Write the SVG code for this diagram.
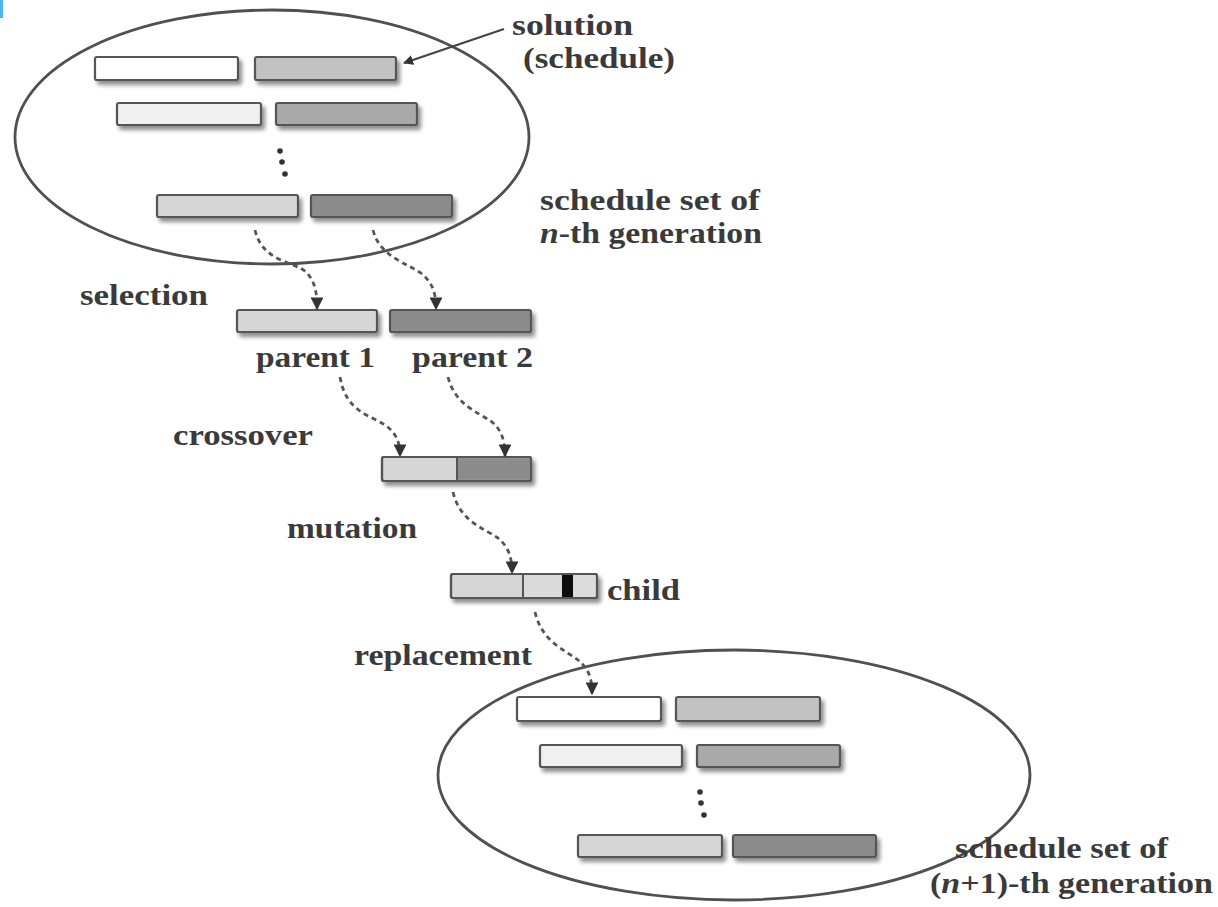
<svg xmlns="http://www.w3.org/2000/svg" width="1218" height="907" viewBox="0 0 1218 907">
<defs>
<style>
.bar{stroke:#555;stroke-width:2.2}
.ell{fill:none;stroke:#505050;stroke-width:2.8}
.lbl{font-family:"Liberation Serif","Times New Roman",serif;font-size:30px;font-weight:bold;fill:#3a3a3a}
.conn{fill:none;stroke:#555;stroke-width:2.8;stroke-dasharray:5 4}
.dot{fill:#333}
.w{fill:#ffffff}.l1{fill:#f0f0f0}.l2{fill:#d6d6d6}.g1{fill:#c2c2c2}.g2{fill:#a9a9a9}.g3{fill:#8c8c8c}
</style>
<filter id="sh" x="-10%" y="-40%" width="125%" height="200%">
<feGaussianBlur in="SourceAlpha" stdDeviation="2"/>
<feOffset dx="3" dy="4" result="b"/>
<feComponentTransfer><feFuncA type="linear" slope="0.45"/></feComponentTransfer>
<feMerge><feMergeNode/><feMergeNode in="SourceGraphic"/></feMerge>
</filter>
<marker id="ah" viewBox="0 0 10 10" refX="9" refY="5" markerWidth="4.6" markerHeight="4.6" orient="auto">
<path d="M0,0 L10,5 L0,10 z" fill="#333"/>
</marker>
</defs>
<rect x="0" y="0" width="3" height="18" fill="#4db6f0"/>

<g id="population-n">
<ellipse class="ell" cx="272" cy="137" rx="257" ry="127"/>
<g filter="url(#sh)">
<rect class="bar w" x="95" y="57" width="143" height="23" rx="2"/>
<rect class="bar g1" x="255" y="57" width="141" height="23" rx="2"/>
<rect class="bar l1" x="117" y="103" width="144" height="22" rx="2"/>
<rect class="bar g2" x="276" y="103" width="141" height="22" rx="2"/>
<rect class="bar l2" x="157" y="195" width="141" height="22" rx="2"/>
<rect class="bar g3" x="311" y="195" width="141" height="22" rx="2"/>
</g>
<circle class="dot" cx="280" cy="151" r="2.8"/>
<circle class="dot" cx="282" cy="162" r="2.8"/>
<circle class="dot" cx="285" cy="174" r="2.8"/>
</g>

<g id="label-solution">
<text class="lbl" x="512" y="35" textLength="121" lengthAdjust="spacingAndGlyphs">solution</text>
<text class="lbl" x="523" y="68" textLength="152" lengthAdjust="spacingAndGlyphs">(schedule)</text>
</g>
<g id="label-gen-n">
<text class="lbl" x="540" y="210" textLength="220" lengthAdjust="spacingAndGlyphs">schedule set of</text>
<text class="lbl" x="540" y="243" textLength="222" lengthAdjust="spacingAndGlyphs"><tspan font-style="italic">n</tspan>-th generation</text>
</g>

<g id="label-selection"><text class="lbl" x="80" y="305" textLength="128" lengthAdjust="spacingAndGlyphs">selection</text></g>

<g id="parent1">
<rect class="bar l2" x="237" y="310" width="140" height="22" rx="2" filter="url(#sh)"/>
<text class="lbl" x="256" y="367" textLength="119" lengthAdjust="spacingAndGlyphs">parent 1</text>
</g>
<g id="parent2">
<rect class="bar g3" x="390" y="310" width="141" height="22" rx="2" filter="url(#sh)"/>
<text class="lbl" x="412" y="367" textLength="121" lengthAdjust="spacingAndGlyphs">parent 2</text>
</g>

<g id="label-crossover"><text class="lbl" x="173" y="445" textLength="140" lengthAdjust="spacingAndGlyphs">crossover</text></g>
<g id="crossover-result">
<g filter="url(#sh)">
<rect class="bar l2" x="382" y="457" width="149" height="24" rx="2"/>
<rect x="457" y="458.1" width="72.9" height="21.8" class="g3"/>
<line x1="457" y1="457" x2="457" y2="481" stroke="#555" stroke-width="2"/>
<rect x="382" y="457" width="149" height="24" rx="2" fill="none" stroke="#555" stroke-width="2.2"/>
</g>
</g>

<g id="label-mutation"><text class="lbl" x="287" y="538" textLength="130" lengthAdjust="spacingAndGlyphs">mutation</text></g>
<g id="child">
<g filter="url(#sh)">
<rect class="bar l2" x="451" y="574" width="146" height="24" rx="2"/>
<rect x="524" y="575" width="38" height="22" fill="#dadada"/>
<rect x="562" y="575" width="11" height="22" fill="#111"/>
<rect x="573" y="575" width="23" height="22" fill="#dcdcdc"/>
<line x1="523" y1="574" x2="523" y2="598" stroke="#555" stroke-width="2"/>
<rect x="451" y="574" width="146" height="24" rx="2" fill="none" stroke="#555" stroke-width="2.2"/>
</g>
<text class="lbl" x="607" y="600" textLength="73" lengthAdjust="spacingAndGlyphs">child</text>
</g>

<g id="label-replacement"><text class="lbl" x="354" y="665" textLength="178" lengthAdjust="spacingAndGlyphs">replacement</text></g>

<g id="population-n1">
<ellipse class="ell" cx="734" cy="775" rx="296" ry="125"/>
<g filter="url(#sh)">
<rect class="bar w" x="517" y="697" width="144" height="24" rx="2"/>
<rect class="bar g1" x="676" y="697" width="144" height="24" rx="2"/>
<rect class="bar l1" x="540" y="745" width="142" height="22" rx="2"/>
<rect class="bar g2" x="697" y="745" width="143" height="22" rx="2"/>
<rect class="bar l2" x="578" y="835" width="144" height="22" rx="2"/>
<rect class="bar g3" x="733" y="835" width="143" height="22" rx="2"/>
</g>
<circle class="dot" cx="700" cy="792" r="2.8"/>
<circle class="dot" cx="701" cy="803" r="2.8"/>
<circle class="dot" cx="704" cy="815" r="2.8"/>
</g>
<g id="label-gen-n1">
<text class="lbl" x="955" y="858" textLength="213" lengthAdjust="spacingAndGlyphs">schedule set of</text>
<text class="lbl" x="930" y="893" textLength="283" lengthAdjust="spacingAndGlyphs">(<tspan font-style="italic">n</tspan>+1)-th generation</text>
</g>

<g id="connectors">
<path d="M504,29 L404,63" fill="none" stroke="#444" stroke-width="2.2" marker-end="url(#ah)"/>
<path class="conn" d="M255,230 C262,262 296,262 306,272 C316,282 317,295 317,309" marker-end="url(#ah)"/>
<path class="conn" d="M373,230 C380,258 410,264 422,274 C434,284 436,296 436,309" marker-end="url(#ah)"/>
<path class="conn" d="M340,377 C346,412 370,415 385,425 C398,434 400,445 400,456" marker-end="url(#ah)"/>
<path class="conn" d="M448,377 C455,405 478,412 492,422 C503,431 505,444 505,456" marker-end="url(#ah)"/>
<path class="conn" d="M453,492 C460,522 484,528 498,538 C510,548 512,560 512,573" marker-end="url(#ah)"/>
<path class="conn" d="M535,612 C542,642 565,650 578,660 C590,670 592,680 592,694" marker-end="url(#ah)"/>
</g>
</svg>
